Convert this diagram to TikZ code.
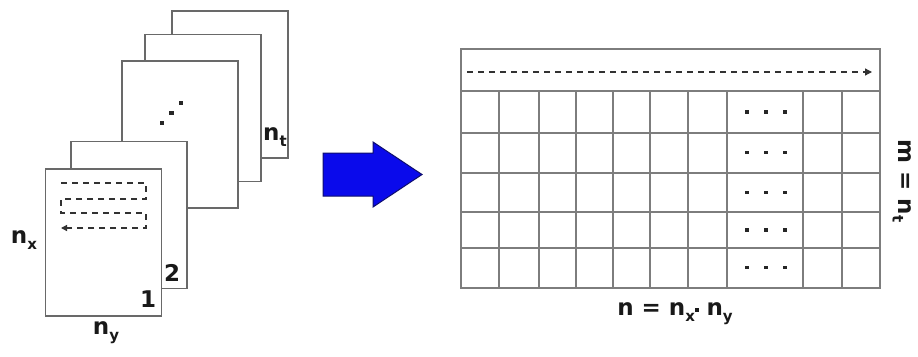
\documentclass[tikz,border=0pt]{standalone}
\usepackage{fontspec}
\setmainfont{DejaVu Sans}
\usetikzlibrary{arrows.meta}
\definecolor{pagegray}{RGB}{105,105,105}
\definecolor{gridgray}{RGB}{125,125,125}
\definecolor{arrowblue}{RGB}{10,10,235}
\definecolor{arrownavy}{RGB}{15,15,110}
\definecolor{dashgray}{RGB}{50,50,50}
\newcommand{\sbs}[1]{\raisebox{-0.45ex}{\fontsize{15}{15}\selectfont #1}}
\begin{document}
\begin{tikzpicture}[x=1pt,y=-1pt,
  page/.style={draw=pagegray,line width=1.2pt,fill=white,minimum width=116pt,minimum height=147pt,inner sep=0pt},
  lbl/.style={font=\fontsize{23}{23}\selectfont\bfseries,inner sep=0pt,text=black!90},
  gridline/.style={draw=gridgray,line width=1.2pt},
  dashline/.style={draw=dashgray,line width=1.3pt,dash pattern=on 6pt off 5pt},
  dotmark/.style={fill=black!85,draw=none}]
\useasboundingbox (0,0) rectangle (918,356);
\fill[white] (0,0) rectangle (918,356);
% stacked pages, back to front
\node[page] (p5) at (230,84.5) {};
\node[page] (p4) at (203,108) {};
\node[page] (p3) at (180,134.5) {};
\node[page] (p2) at (129,215) {};
\node[page] (p1) at (103.5,242.5) {};
% diagonal dots on page 3
\foreach \px/\py in {162/123,171.5/113,181/103}
  \fill[dotmark] (\px-2.2,\py-2.2) rectangle (\px+2.2,\py+2.2);
% scan path on page 1
\coordinate (s0) at (61,183);
\coordinate (s1) at (146,183);
\coordinate (s2) at (146,199);
\coordinate (s3) at (61,199);
\coordinate (s4) at (61,213);
\coordinate (s5) at (146,213);
\coordinate (s6) at (146,228);
\coordinate (s7) at (61,228);
\draw[dashline,-{Triangle[length=6pt,width=6pt]}] (s0) -- (s1) -- (s2) -- (s3) -- (s4) -- (s5) -- (s6) -- (s7);
% labels of the stack
\node[lbl] (nx) at (24,240) {n\sbs{x}};
\node[lbl] (ny) at (106,333) {n\sbs{y}};
\node[lbl] (one) at (148,299) {1};
\node[lbl] (two) at (172,273) {2};
\node[lbl] (nt) at (275,137) {n\sbs{t}};
% blue arrow
\draw[fill=arrowblue,draw=arrownavy,line width=1pt,line join=miter]
  (323,153) -- (373,153) -- (373,142) -- (422,174.5) -- (373,207) -- (373,196) -- (323,196) -- cycle;
% matrix
\draw[gridline] (461,49) rectangle (880,288);
\draw[gridline] (461,91) -- (880,91);
\foreach \gy in {133,173,212,248}
  \draw[gridline] (461,\gy) -- (880,\gy);
\foreach \gx in {499,539,576,613,650,688,727,803,842}
  \draw[gridline] (\gx,91) -- (\gx,288);
\coordinate (hs) at (467,72);
\coordinate (he) at (872,72);
\draw[dashline,-{Triangle[length=7pt,width=7pt]}] (hs) -- (he);
\foreach \gy in {112,152.5,192.5,230,267.5}
  \foreach \gx in {747,766,785}
    \fill[dotmark] (\gx-1.8,\gy-1.8) rectangle (\gx+1.8,\gy+1.8);
\node[lbl] (nlab) at (675,314) {n = n\sbs{x}\raisebox{0.35ex}{\rule{3.5pt}{3.5pt}} n\sbs{y}};
\node[lbl,rotate=-90] (mlab) at (902,181) {m = n\sbs{t}};
\end{tikzpicture}
\end{document}
